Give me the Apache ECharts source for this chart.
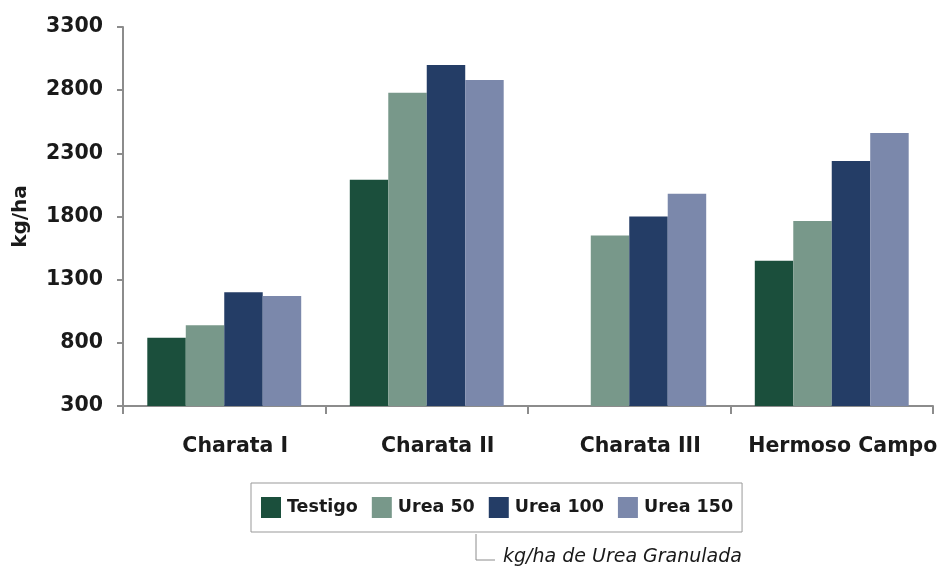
<!DOCTYPE html>
<html>
<head>
<meta charset="utf-8">
<script src="https://cdn.jsdelivr.net/npm/echarts@6/dist/echarts.min.js"></script>
<style>html,body{margin:0;padding:0;background:#fff;}#c{width:946px;height:572px;}</style>
</head>
<body>
<div id="c"></div>
<script>
const categories = ['Charata I', 'Charata II', 'Charata III', 'Hermoso Campo'];
const seriesNames = ['Testigo', 'Urea 50', 'Urea 100', 'Urea 150'];
const testigo = [840, 2090, null, 1450];
const urea50 = [940, 2780, 1650, 1765];
const urea100 = [1200, 3000, 1800, 2240];
const urea150 = [1170, 2880, 1980, 2460];
const yTicks = [300, 800, 1300, 1800, 2300, 2800, 3300];
const yName = 'kg/ha';
const note = 'kg/ha de Urea Granulada';

const colors = ['#1b4f3c', '#78988a', '#243d66', '#7b88ab'];
const values = [testigo, urea50, urea100, urea150];
const FONT = 'DejaVu Sans';
const chart = echarts.init(document.getElementById('c'), null, {renderer: 'canvas'});
chart.setOption({
  animation: false,
  backgroundColor: '#ffffff',
  grid: {left: 123, right: 13, top: 27, bottom: 166, containLabel: false, outerBoundsMode: 'none'},
  legend: {
    data: seriesNames,
    left: 251, top: 483,
    orient: 'horizontal',
    itemWidth: 20, itemHeight: 21, itemGap: 14,
    padding: [14, 9, 14, 10],
    borderColor: '#999', borderWidth: 1,
    icon: 'rect',
    textStyle: {fontFamily: FONT, fontWeight: 'bold', fontSize: 17.5, color: '#1a1a1a', padding: [0,0,0,1]}
  },
  xAxis: {
    type: 'category',
    data: categories,
    axisLine: {lineStyle: {color: '#8c8c8c', width: 2}},
    axisTick: {show: true, interval: 0, length: 8, lineStyle: {color: '#8c8c8c', width: 2}},
    axisLabel: {interval: 0, margin: 30, fontFamily: FONT, fontWeight: 'bold', fontSize: 20.5, color: '#1a1a1a', padding: [0,0,0,22]}
  },
  yAxis: {
    type: 'value',
    min: yTicks[0], max: yTicks[yTicks.length - 1],
    name: yName,
    nameLocation: 'middle', nameRotate: 90, nameGap: 92,
    nameTextStyle: {fontFamily: FONT, fontWeight: 'bold', fontSize: 20, color: '#1a1a1a'},
    axisLine: {show: true, lineStyle: {color: '#8c8c8c', width: 2}},
    axisTick: {show: true, length: 6, customValues: yTicks, lineStyle: {color: '#8c8c8c', width: 2}},
    axisLabel: {customValues: yTicks, margin: 20, formatter: v => String(v), fontFamily: FONT, fontWeight: 'bold', fontSize: 20.5, color: '#1a1a1a'},
    splitLine: {show: false}
  },
  series: seriesNames.map((n, i) => ({
    name: n, type: 'bar', data: values[i],
    barGap: '0%', barCategoryGap: '24%',
    itemStyle: {color: colors[i]}
  })),
  graphic: [
    {type: 'polyline', shape: {points: [[476, 534], [476, 560], [495, 560]]}, style: {stroke: '#8c8c8c', lineWidth: 1, fill: null}},
    {type: 'text', x: 503, y: 557, style: {text: note, font: 'italic 19px "DejaVu Sans"', fill: '#1a1a1a', textVerticalAlign: 'middle', verticalAlign: 'middle'}}
  ]
});
</script>
</body>
</html>
